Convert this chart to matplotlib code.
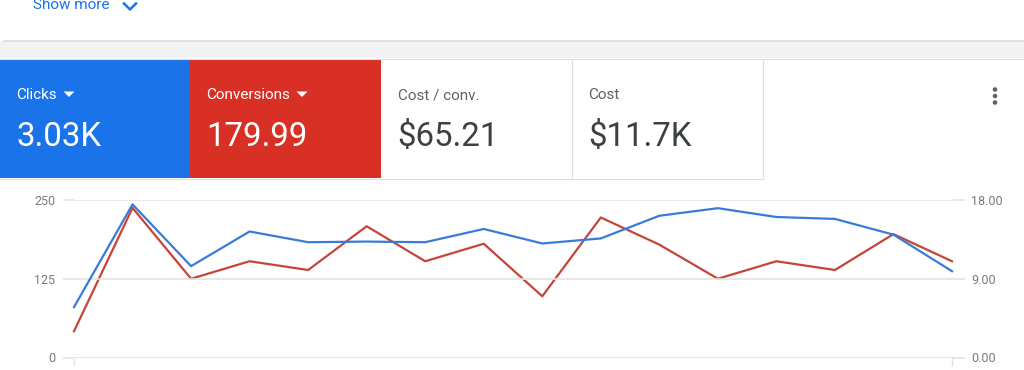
import matplotlib
matplotlib.use("Agg")
import matplotlib.pyplot as plt
from matplotlib.patches import Rectangle, Polygon, Ellipse
from matplotlib.lines import Line2D
from matplotlib.ticker import FormatStrFormatter

# ---- data ----
clicks = [80, 243, 145, 200, 183, 184, 183, 204, 181, 189, 225, 237, 223, 220, 195, 137]
conversions = [3.0, 17.1, 9.0, 11.0, 10.0, 15.0, 11.0, 13.0, 7.0, 16.0, 12.9, 9.0, 11.0, 10.0, 14.1, 11.0]
left_ticks = [0, 125, 250]
right_ticks = [0, 9, 18]
tiles = [
    ("Clicks", "3.03K"),
    ("Conversions", "179.99"),
    ("Cost / conv.", "$65.21"),
    ("Cost", "$11.7K"),
]

W, H = 1024, 370
fig = plt.figure(figsize=(W / 100, H / 100), dpi=100)
fig.patch.set_facecolor("white")
FONT = ["Roboto", "DejaVu Sans"]

def px(x, y):
    return x / W, 1 - y / H

def rect(x0, y0, x1, y1, **kw):
    r = Rectangle(px(x0, y1), (x1 - x0) / W, (y1 - y0) / H, transform=fig.transFigure, **kw)
    fig.add_artist(r)
    return r

def hline(x0, x1, y, color, lw=1.0):
    fig.add_artist(Line2D([x0 / W, x1 / W], [1 - y / H, 1 - y / H], transform=fig.transFigure, color=color, lw=lw))

def vline(x, y0, y1, color, lw=1.0):
    fig.add_artist(Line2D([x / W, x / W], [1 - y0 / H, 1 - y1 / H], transform=fig.transFigure, color=color, lw=lw))

def text(x, y, s, size, color, **kw):
    fx, fy = px(x, y)
    fig.text(fx, fy, s, fontsize=size, color=color, family=FONT, transform=fig.transFigure, **kw)

# ---- top card remnant ----
rect(0, 41, W, 58, facecolor="#f1f3f4", edgecolor="none")
hline(4, W, 40.5, "#dadce0", 1.2)
text(33, 9, "Show more", 11, "#1a73e8", va="baseline", ha="left")
fig.add_artist(Line2D([124 / W, 130 / W, 136 / W], [1 - 3.5 / H, 1 - 9.5 / H, 1 - 3.5 / H],
                      transform=fig.transFigure, color="#1a73e8", lw=1.8))

# ---- tiles ----
hline(0, W, 58.5, "#dadce0", 0.8)
tile_x = [0, 190, 381, 572, 763]
tile_bg = ["#1a73e8", "#d93025", "white", "white"]
label_col = ["white", "white", "#5f6368", "#5f6368"]
value_col = ["white", "white", "#3c4043", "#3c4043"]
for i, (lab, val) in enumerate(tiles):
    x0, x1 = tile_x[i], tile_x[i + 1]
    rect(x0, 59, x1, 178, facecolor=tile_bg[i], edgecolor="none")
    text(x0 + 16.5, 99, lab, 11, label_col[i], va="baseline", ha="left")
    text(x0 + 16, 146, val, 23.8, value_col[i], va="baseline", ha="left")
hline(0, 763, 178.5, "#e0e0e0", 0.8)
vline(572, 59, 178, "#e0e0e0", 0.8)
vline(763, 59, 178, "#e0e0e0", 0.8)

# dropdown carets
for cx in (69, 302):
    fig.add_artist(Polygon([px(cx - 5.5, 91.5), px(cx + 5.5, 91.5), px(cx, 97)], closed=True,
                           transform=fig.transFigure, facecolor="white", edgecolor="none"))

# kebab menu
for cy in (89.5, 96, 102.5):
    fig.add_artist(Ellipse(px(995, cy), 4.6 / W, 4.6 / H, transform=fig.transFigure,
                           facecolor="#5f6368", edgecolor="none"))

# ---- chart ----
left, right, top, bottom = 74, 952, 200, 357.5
ax = fig.add_axes([left / W, 1 - bottom / H, (right - left) / W, (bottom - top) / H])
ax.set_facecolor("none")
x = list(range(len(clicks)))
ax.set_xlim(0, len(clicks) - 1)
ax.set_ylim(0, 250)
ax.set_yticks(left_ticks)
ax.set_xticks([0, len(clicks) - 1])
ax.set_xticklabels(["", ""])
for s in ax.spines.values():
    s.set_visible(False)
ax.grid(axis="y", color="#e3e3e3", lw=1.2)
ax.set_axisbelow(True)
ax.tick_params(axis="y", length=8, width=1.2, color="#e3e3e3", pad=5.5, labelsize=9, labelcolor="#7a7a7a")
ax.tick_params(axis="x", length=5.5, width=1, color="#e3e3e3")
for lab in ax.get_yticklabels():
    lab.set_family(FONT)

ax2 = ax.twinx()
ax2.set_ylim(0, 18)
ax2.set_yticks(right_ticks)
ax2.yaxis.set_major_formatter(FormatStrFormatter("%.2f"))
for s in ax2.spines.values():
    s.set_visible(False)
ax2.tick_params(axis="y", length=9, width=1.2, color="#e3e3e3", pad=5, labelsize=9, labelcolor="#7a7a7a")
for lab in ax2.get_yticklabels():
    lab.set_family(FONT)

ax2.plot(x, conversions, color="#c5453a", lw=1.6, clip_on=False, zorder=3)
ax.plot(x, clicks, color="#3a7bd8", lw=1.6, clip_on=False, zorder=4)
ax.set_zorder(ax2.get_zorder() + 1)
ax.patch.set_visible(False)

fig.savefig("out.png", dpi=100, facecolor="white")
